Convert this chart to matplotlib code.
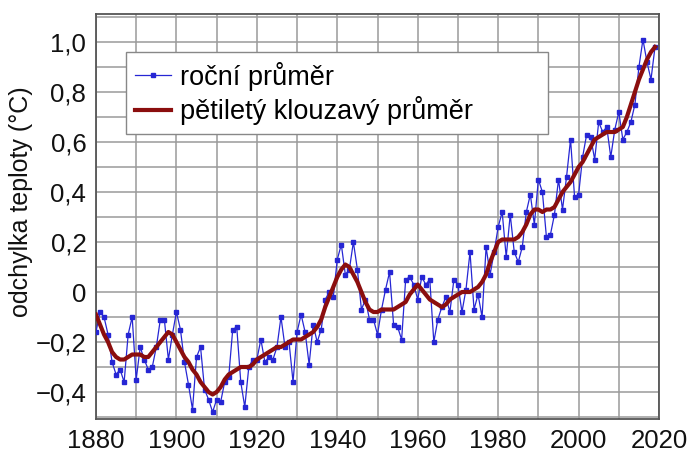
import matplotlib.pyplot as plt
from matplotlib.ticker import MultipleLocator, FuncFormatter

plt.rcParams['font.family'] = ['Liberation Sans', 'DejaVu Sans']

# roční průměr (NASA GISTEMP), 1880-2019
years = list(range(1880, 2020))
annual = [
    -0.16, -0.08, -0.10, -0.17, -0.28, -0.33, -0.31, -0.36, -0.17, -0.10,
    -0.35, -0.22, -0.27, -0.31, -0.30, -0.22, -0.11, -0.11, -0.27, -0.17,
    -0.08, -0.15, -0.28, -0.37, -0.47, -0.26, -0.22, -0.39, -0.43, -0.48,
    -0.43, -0.44, -0.36, -0.34, -0.15, -0.14, -0.36, -0.46, -0.30, -0.27,
    -0.27, -0.19, -0.28, -0.26, -0.27, -0.22, -0.10, -0.22, -0.20, -0.36,
    -0.16, -0.09, -0.16, -0.29, -0.13, -0.20, -0.15, -0.03, -0.00, -0.02,
    0.13, 0.19, 0.07, 0.09, 0.20, 0.09, -0.07, -0.03, -0.11, -0.11,
    -0.17, -0.07, 0.01, 0.08, -0.13, -0.14, -0.19, 0.05, 0.06, 0.03,
    -0.03, 0.06, 0.03, 0.05, -0.20, -0.11, -0.06, -0.02, -0.08, 0.05,
    0.03, -0.08, 0.01, 0.16, -0.07, -0.01, -0.10, 0.18, 0.07, 0.16,
    0.26, 0.32, 0.14, 0.31, 0.16, 0.12, 0.18, 0.32, 0.39, 0.27,
    0.45, 0.40, 0.22, 0.23, 0.31, 0.45, 0.33, 0.46, 0.61, 0.38,
    0.39, 0.54, 0.63, 0.62, 0.53, 0.68, 0.64, 0.66, 0.54, 0.65,
    0.72, 0.61, 0.64, 0.68, 0.75, 0.90, 1.01, 0.92, 0.85, 0.98,
]

# pětiletý klouzavý průměr
smooth = [
    -0.09, -0.13, -0.17, -0.20, -0.24, -0.26, -0.27, -0.27, -0.26, -0.25,
    -0.25, -0.25, -0.26, -0.26, -0.24, -0.22, -0.20, -0.18, -0.16, -0.17,
    -0.20, -0.23, -0.26, -0.28, -0.31, -0.33, -0.36, -0.38, -0.40, -0.41,
    -0.40, -0.38, -0.35, -0.33, -0.32, -0.31, -0.30, -0.30, -0.30, -0.29,
    -0.27, -0.26, -0.25, -0.24, -0.23, -0.22, -0.22, -0.21, -0.20, -0.19,
    -0.19, -0.19, -0.18, -0.17, -0.16, -0.14, -0.11, -0.06, -0.02, 0.02,
    0.06, 0.09, 0.11, 0.10, 0.07, 0.04, 0.00, -0.04, -0.07, -0.08,
    -0.08, -0.07, -0.07, -0.07, -0.07, -0.06, -0.05, -0.04, -0.01, 0.01,
    0.03, 0.01, -0.01, -0.03, -0.04, -0.05, -0.06, -0.05, -0.03, -0.02,
    -0.01, 0.00, 0.00, 0.00, 0.01, 0.02, 0.04, 0.07, 0.12, 0.16,
    0.20, 0.21, 0.21, 0.21, 0.21, 0.22, 0.24, 0.27, 0.31, 0.33,
    0.33, 0.32, 0.33, 0.33, 0.34, 0.37, 0.40, 0.42, 0.44, 0.47,
    0.50, 0.52, 0.55, 0.58, 0.61, 0.62, 0.63, 0.64, 0.64, 0.64,
    0.65, 0.66, 0.70, 0.75, 0.80, 0.85, 0.89, 0.93, 0.96, 0.98,
]

fig = plt.figure(figsize=(6.89, 4.55), dpi=100)
ax = fig.add_axes([0.1393, 0.0791, 0.8172, 0.8901])

ax.plot(years, annual, color='#2626d4', lw=0.9, marker='s', ms=3.2,
        label='roční průměr', zorder=3)
ax.plot(years, smooth, color='#8b0e0e', lw=3.0, label='pětiletý klouzavý průměr', zorder=4)

ax.set_xlim(1880, 2020)
ax.set_ylim(-0.508, 1.112)
ax.xaxis.set_major_locator(MultipleLocator(20))
ax.xaxis.set_minor_locator(MultipleLocator(10))
ax.yaxis.set_major_locator(MultipleLocator(0.2))
ax.yaxis.set_minor_locator(MultipleLocator(0.1))


def fmt(v, pos):
    if abs(v) < 1e-9:
        return '0'
    return ('%.1f' % v).replace('.', ',').replace('-', '\u2212')


ax.yaxis.set_major_formatter(FuncFormatter(fmt))
ax.grid(True, which='both', color='#9a9a9a', lw=1.1)
ax.set_axisbelow(True)
ax.tick_params(which='both', length=0, labelsize=18.5, colors='#111111', pad=7)
for s in ax.spines.values():
    s.set_color('#555555')
    s.set_linewidth(1.3)

ax.set_ylabel('odchylka teploty (°C)', fontsize=18, color='#111111')
ax.yaxis.set_label_coords(-0.112, 0.536)

leg = ax.legend(loc='upper left', bbox_to_anchor=(0.053, 0.704, 0.75, 0.202),
                mode='expand', borderaxespad=0, fontsize=19.5, fancybox=False,
                edgecolor='#888888', framealpha=1, handlelength=1.3,
                handletextpad=0.35, borderpad=0.35, labelspacing=0.2)
leg.get_frame().set_linewidth(1.0)

fig.savefig('out.png', dpi=100)
